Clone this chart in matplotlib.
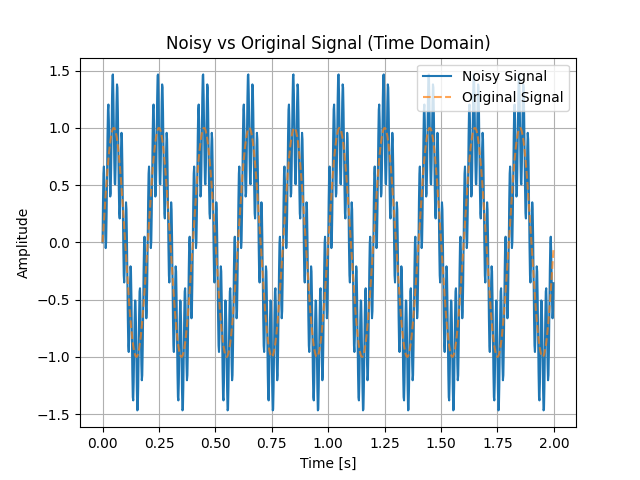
import numpy as np
import matplotlib
matplotlib.use("Agg")
import matplotlib.pyplot as plt

# signal parameters
duration = 2.0
sample_rate = 500
base_freq = 5.0
base_amp = 1.0
noise_freq = 50.0
noise_amp = 0.5

t = np.arange(0, duration, 1.0 / sample_rate)
original = base_amp * np.sin(2 * np.pi * base_freq * t)
noisy = original + noise_amp * np.sin(2 * np.pi * noise_freq * t)

fig, ax = plt.subplots(figsize=(6.4, 4.8), dpi=100)
ax.plot(t, noisy, label="Noisy Signal")
ax.plot(t, original, "--", alpha=0.7, label="Original Signal")
ax.set_title("Noisy vs Original Signal (Time Domain)")
ax.set_xlabel("Time [s]")
ax.set_ylabel("Amplitude")
ax.legend(loc="upper right")
ax.grid(True)
fig.savefig("out.png")
